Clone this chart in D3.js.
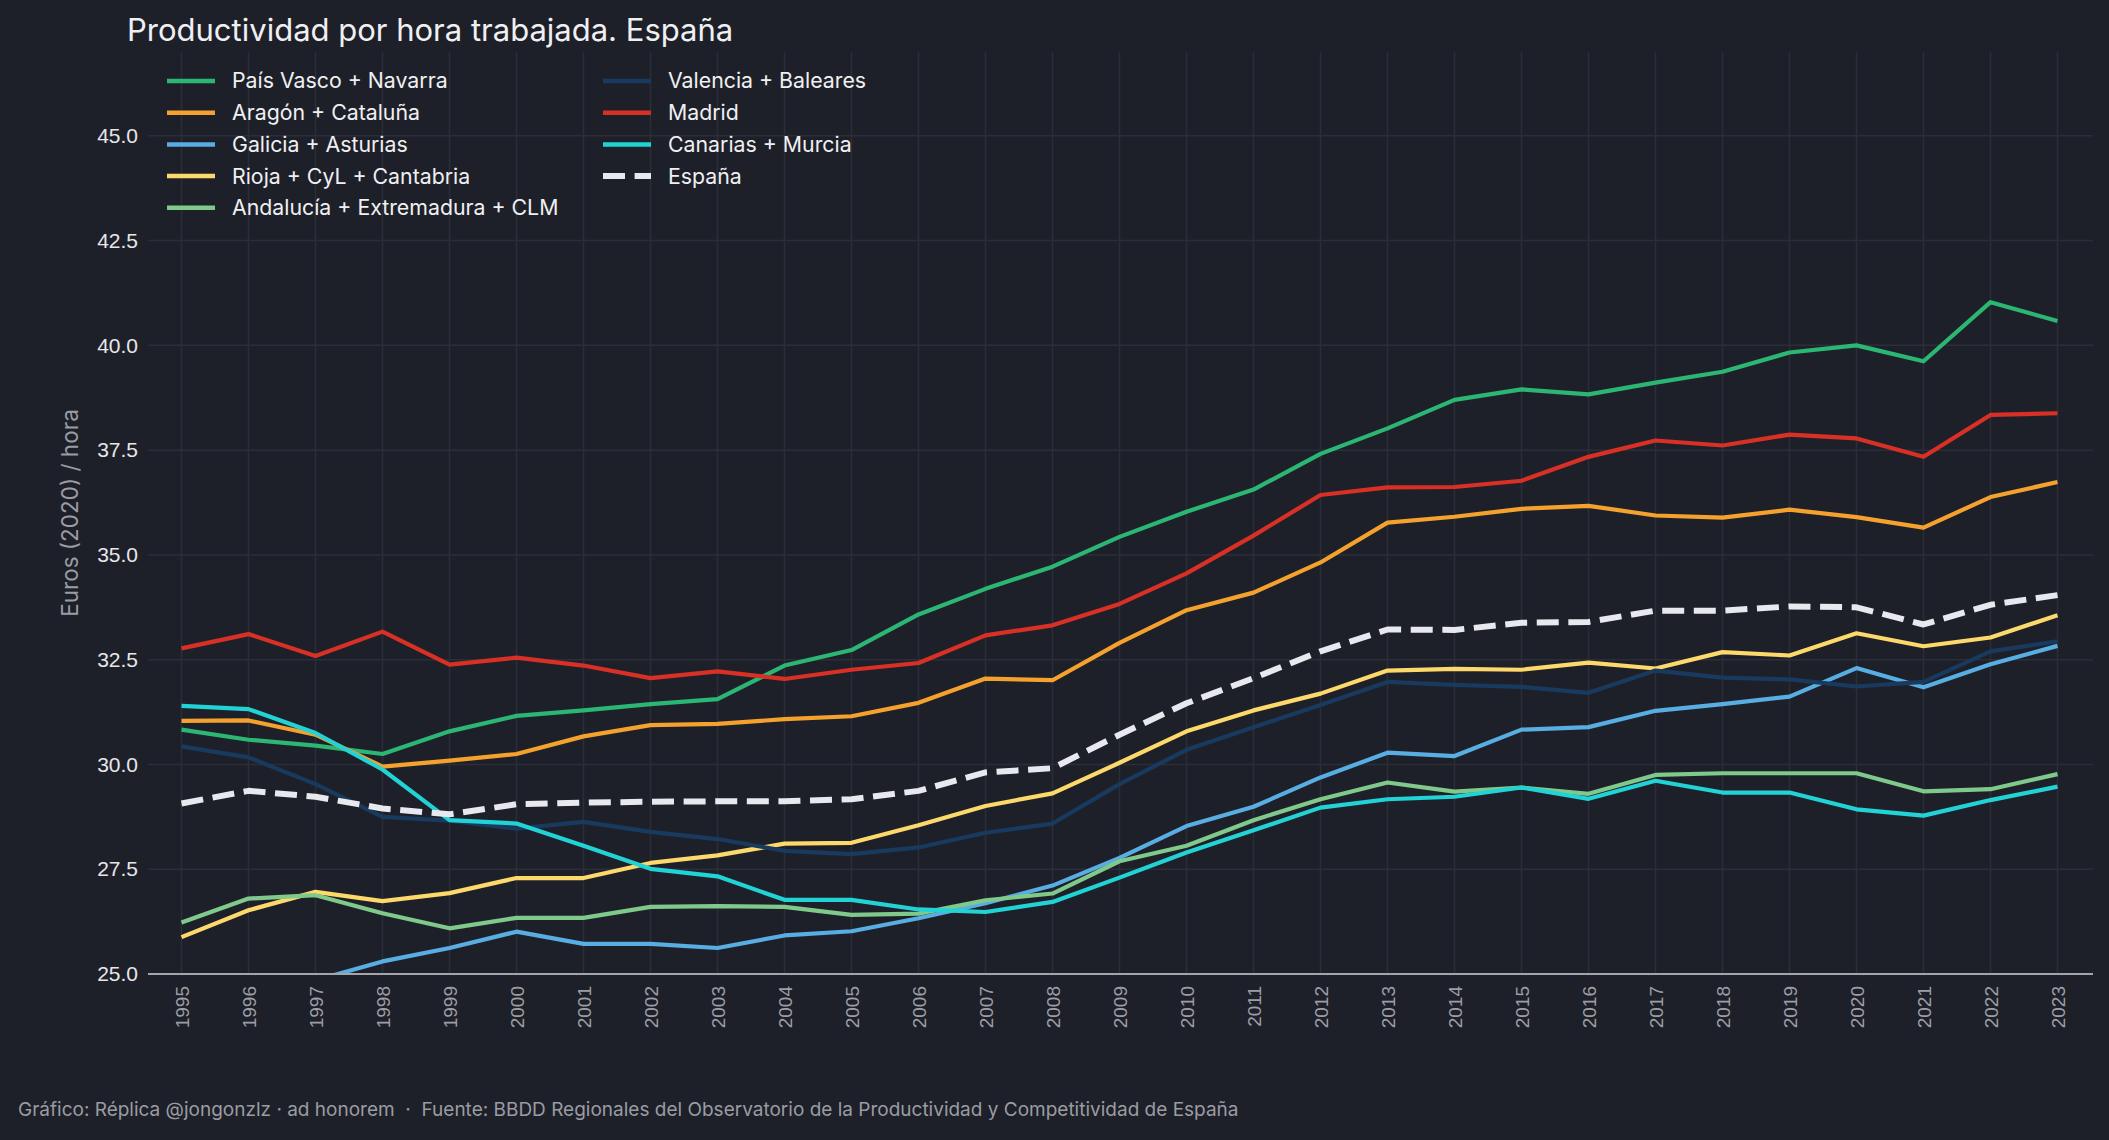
<!DOCTYPE html>
<html lang="es">
<head>
<meta charset="utf-8">
<title>Productividad por hora trabajada. España</title>
<script src="https://cdn.jsdelivr.net/npm/d3@7"></script>
<style>
  html, body { margin: 0; padding: 0; background: #1e2029; }
  svg { display: block; font-family: Inter, "Liberation Sans", Arial, sans-serif; }
</style>
</head>
<body>
<svg id="chart"></svg>
<script>
/*Datos*/
const years = d3.range(1995, 2024)

const paisVasco = [30.83, 30.59, 30.45, 30.25, 30.79, 31.16, 31.29, 31.44, 31.56, 32.36, 32.73, 33.58, 34.19, 34.72, 35.43,
                   36.03, 36.56, 37.41, 38.02, 38.70, 38.95, 38.83, 39.11, 39.37, 39.83, 40.00, 39.62, 41.03, 40.58]
const aragon = [31.04, 31.05, 30.71, 29.95, 30.09, 30.25, 30.67, 30.94, 30.97, 31.08, 31.15, 31.47, 32.05, 32.01, 32.90,
                33.68, 34.10, 34.82, 35.77, 35.91, 36.10, 36.17, 35.94, 35.89, 36.08, 35.90, 35.65, 36.38, 36.74]
const galicia = [24.30, 24.50, 24.85, 25.30, 25.62, 26.01, 25.72, 25.72, 25.62, 25.92, 26.02, 26.33, 26.69, 27.11, 27.77,
                 28.53, 28.99, 29.69, 30.28, 30.20, 30.83, 30.89, 31.28, 31.44, 31.62, 32.30, 31.84, 32.39, 32.83]
const rioja = [25.88, 26.52, 26.96, 26.74, 26.93, 27.29, 27.29, 27.65, 27.83, 28.11, 28.13, 28.55, 29.01, 29.31, 30.04,
               30.79, 31.29, 31.69, 32.24, 32.28, 32.26, 32.43, 32.29, 32.68, 32.60, 33.13, 32.82, 33.03, 33.56]
const andalucia = [26.23, 26.80, 26.88, 26.45, 26.09, 26.34, 26.34, 26.60, 26.62, 26.60, 26.41, 26.44, 26.76, 26.92, 27.69,
                   28.06, 28.67, 29.17, 29.57, 29.35, 29.45, 29.30, 29.75, 29.79, 29.79, 29.79, 29.36, 29.41, 29.77]
const valencia = [30.43, 30.17, 29.53, 28.75, 28.66, 28.47, 28.63, 28.39, 28.22, 27.94, 27.86, 28.02, 28.37, 28.59, 29.53,
                  30.35, 30.89, 31.42, 31.97, 31.90, 31.85, 31.71, 32.24, 32.07, 32.03, 31.86, 31.97, 32.70, 32.94]
const madrid = [32.77, 33.11, 32.59, 33.17, 32.38, 32.55, 32.36, 32.06, 32.22, 32.04, 32.26, 32.42, 33.08, 33.32, 33.83,
                34.56, 35.46, 36.43, 36.61, 36.62, 36.77, 37.34, 37.73, 37.61, 37.87, 37.78, 37.34, 38.34, 38.38]
const canarias = [31.40, 31.32, 30.75, 29.88, 28.67, 28.59, 28.06, 27.51, 27.33, 26.77, 26.77, 26.54, 26.48, 26.72, 27.30,
                  27.90, 28.43, 28.97, 29.17, 29.23, 29.45, 29.18, 29.61, 29.33, 29.33, 28.93, 28.78, 29.15, 29.47]
const espana = [29.07, 29.37, 29.23, 28.95, 28.81, 29.05, 29.09, 29.11, 29.12, 29.12, 29.17, 29.37, 29.81, 29.91, 30.71,
                31.46, 32.06, 32.70, 33.22, 33.21, 33.38, 33.40, 33.67, 33.67, 33.77, 33.75, 33.34, 33.81, 34.04]

const seriesNames = ['País Vasco + Navarra', 'Aragón + Cataluña', 'Galicia + Asturias', 'Rioja + CyL + Cantabria',
                     'Andalucía + Extremadura + CLM', 'Valencia + Baleares', 'Madrid', 'Canarias + Murcia', 'España']
const seriesValues = [paisVasco, aragon, galicia, rioja, andalucia, valencia, madrid, canarias, espana]
const seriesColors = ['#2bb673', '#f4a22d', '#58ade3', '#fdd96b', '#7fca8a', '#183a5f', '#d93026', '#22d3d6', '#e8e9ee']

const yTicks = [25, 27.5, 30, 32.5, 35, 37.5, 40, 42.5, 45]

const titleText = 'Productividad por hora trabajada. España'
const yLabel = 'Euros (2020) / hora'
const footerText = 'Gráfico: Réplica @jongonzlz · ad honorem  ·  Fuente: BBDD Regionales del Observatorio de la Productividad y Competitividad de España'

/*Dimensiones*/
const width = 2109,
      height = 1140
const margin = {top: 52, right: 16, bottom: 166, left: 148}
const tickFont = '"Liberation Sans", Arial, sans-serif'

const svg = d3.select('#chart')
              .attr('width', width)
              .attr('height', height)

svg.append('rect')
   .attr('width', width)
   .attr('height', height)
   .attr('fill', '#1e2029')

/*Escalas*/
const xScale = d3.scaleLinear()
                 .domain([1994.5, 2023.5])
                 .range([margin.left, margin.left + 29 * 67])

const yScale = d3.scaleLinear()
                 .domain([25, 47])
                 .range([height - margin.bottom, margin.top])

const plotRight = width - margin.right

/*Rejilla*/
const grid = svg.append('g')

grid.selectAll('line.vgrid')
    .data(years)
    .enter()
    .append('line')
    .attr('class', 'vgrid')
    .attr('x1', d => xScale(d))
    .attr('x2', d => xScale(d))
    .attr('y1', yScale.range()[1])
    .attr('y2', yScale.range()[0])
    .attr('stroke', '#2b2e3a')
    .attr('stroke-width', 1.5)

grid.selectAll('line.hgrid')
    .data(yTicks)
    .enter()
    .append('line')
    .attr('class', 'hgrid')
    .attr('x1', margin.left)
    .attr('x2', plotRight)
    .attr('y1', d => yScale(d))
    .attr('y2', d => yScale(d))
    .attr('stroke', '#2b2e3a')
    .attr('stroke-width', 1.5)

/*Ejes*/
const yAxis = d3.axisLeft(yScale)
                .tickValues(yTicks)
                .tickFormat(d3.format('.1f'))
                .tickSize(0)
                .tickPadding(10)

svg.append('g')
   .attr('transform', 'translate(' + margin.left + ',0)')
   .call(yAxis)
   .call(g => g.select('.domain').remove())
   .selectAll('text')
   .attr('fill', '#e6e7ea')
   .style('font-size', '21px')
   .style('font-family', tickFont)

const xAxis = d3.axisBottom(xScale)
                .tickValues(years)
                .tickFormat(d3.format('d'))
                .tickSize(0)

const xAxisG = svg.append('g')
                  .attr('transform', 'translate(0,' + yScale(25) + ')')
                  .call(xAxis)

xAxisG.select('.domain').remove()

xAxisG.selectAll('text')
      .attr('fill', '#9c9ea6')
      .attr('transform', 'rotate(-90)')
      .attr('text-anchor', 'end')
      .attr('x', -12)
      .attr('y', 0)
      .attr('dy', '0.35em')
      .style('font-size', '19px')
      .style('font-family', tickFont)

/*Lineas*/
svg.append('clipPath')
   .attr('id', 'plotClip')
   .append('rect')
   .attr('x', margin.left)
   .attr('y', margin.top)
   .attr('width', plotRight - margin.left)
   .attr('height', yScale(25) - margin.top)

const line = d3.line()
               .x((d, i) => xScale(years[i]))
               .y(d => yScale(d))

svg.append('g')
   .attr('clip-path', 'url(#plotClip)')
   .selectAll('path')
   .data(seriesValues)
   .enter()
   .append('path')
   .attr('d', d => line(d))
   .attr('fill', 'none')
   .attr('stroke', (d, i) => seriesColors[i])
   .attr('stroke-width', (d, i) => i === 8 ? 6 : 4.2)
   .attr('stroke-dasharray', (d, i) => i === 8 ? '22,9.6' : null)
   .attr('stroke-linejoin', 'round')

/*Linea del eje x*/
svg.append('line')
   .attr('x1', margin.left)
   .attr('x2', plotRight)
   .attr('y1', yScale(25))
   .attr('y2', yScale(25))
   .attr('stroke', '#a3a5ab')
   .attr('stroke-width', 2)

/*Titulo del eje y*/
svg.append('text')
   .attr('transform', 'rotate(-90)')
   .attr('x', -(yScale(25) + yScale(47)) / 2)
   .attr('y', 78)
   .attr('text-anchor', 'middle')
   .attr('fill', '#9a9ca4')
   .style('font-size', '22.5px')
   .text(yLabel)

/*Titulo*/
svg.append('text')
   .attr('x', 127)
   .attr('y', 41)
   .attr('fill', '#f0f0f2')
   .style('font-size', '31px')
   .text(titleText)

/*Leyenda*/
const legend = svg.append('g')

const legendItems = legend.selectAll('g')
                          .data(seriesNames)
                          .enter()
                          .append('g')
                          .attr('transform', (d, i) => {
                              const col = i < 5 ? 0 : 1
                              const row = i < 5 ? i : i - 5
                              return 'translate(' + (167 + col * 436) + ',' + (81 + row * 31.7) + ')'
                          })

legendItems.append('line')
           .attr('x1', 0)
           .attr('x2', 48)
           .attr('stroke', (d, i) => seriesColors[i])
           .attr('stroke-width', (d, i) => i === 8 ? 6 : 4.5)
           .attr('stroke-dasharray', (d, i) => i === 8 ? '22,9.6' : null)

legendItems.append('text')
           .attr('x', 65)
           .attr('dy', '0.35em')
           .attr('fill', '#f0f0f2')
           .style('font-size', '21.3px')
           .text(d => d)

/*Pie*/
svg.append('text')
   .attr('x', 18)
   .attr('y', 1116)
   .attr('fill', '#9a9ca3')
   .style('font-size', '19px')
   .style('white-space', 'pre')
   .text(footerText)
</script>
</body>
</html>
